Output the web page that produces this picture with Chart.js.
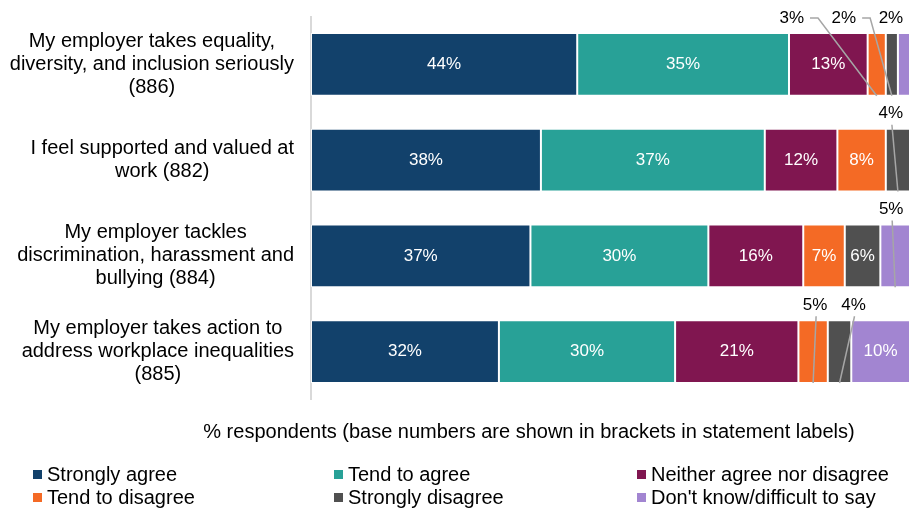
<!DOCTYPE html>
<html>
<head>
<meta charset="utf-8">
<script src="https://cdn.jsdelivr.net/npm/chart.js@4.4.0/dist/chart.umd.min.js"></script>
<style>
  html, body { margin: 0; padding: 0; background: #fff; }
  #wrap { width: 920px; height: 516px; }
</style>
</head>
<body>
<div id="wrap"><canvas id="mycanvas"></canvas></div>
<script>
// statement labels (base numbers in brackets)
const statements = [
  ['My employer takes equality,', 'diversity, and inclusion seriously', '(886)'],
  ['I feel supported and valued at', 'work (882)'],
  ['My employer tackles', 'discrimination, harassment and', 'bullying (884)'],
  ['My employer takes action to', 'address workplace inequalities', '(885)']
];
const responses = ['Strongly agree', 'Tend to agree', 'Neither agree nor disagree',
  'Tend to disagree', 'Strongly disagree', "Don't know/difficult to say"];

const stronglyAgree    = [44, 38, 37, 32];
const tendToAgree      = [35, 37, 30, 30];
const neitherAgree     = [13, 12, 16, 21];
const tendToDisagree   = [3, 8, 7, 5];
const stronglyDisagree = [2, 4, 6, 4];
const dontKnow         = [2, 0, 5, 10];

const axisTitle = '% respondents (base numbers are shown in brackets in statement labels)';

const series = [stronglyAgree, tendToAgree, neitherAgree, tendToDisagree, stronglyDisagree, dontKnow];
const colours = ['#12416b', '#28a197', '#801650', '#f46a25', '#505050', '#a285d1'];

// small segments get their label above the bar (dx from segment centre, leader style)
const outsideLabels = {
  '3,0': { dx: -85, line: 'side' },
  '4,0': { dx: -48, line: 'side' },
  '5,0': { dx: -13, line: 'none' },
  '4,1': { dx: -7, line: 'below' },
  '5,2': { dx: -4, line: 'below' },
  '3,3': { dx: 2, line: 'below' },
  '4,3': { dx: 14, line: 'below' }
};

const FONT = '"Liberation Sans", Arial, sans-serif';

// stacked to 100% like the original
const rowTotals = statements.map((s, i) => series.reduce((a, arr) => a + arr[i], 0));

const datasets = series.map((arr, di) => ({
  label: responses[di],
  data: arr.map((v, i) => v / rowTotals[i] * 100),
  backgroundColor: colours[di],
  borderColor: 'rgba(255,255,255,0.85)',
  borderWidth: 1,
  borderSkipped: false,
  barPercentage: 0.656,
  categoryPercentage: 1
}));

const drawExtras = {
  id: 'drawExtras',
  afterDatasetsDraw(chart) {
    const ctx = chart.ctx;
    ctx.save();

    // statement labels: right-aligned block, centred lines
    const yScale = chart.scales.y;
    ctx.font = '20px ' + FONT;
    ctx.fillStyle = '#000';
    ctx.textAlign = 'center';
    ctx.textBaseline = 'middle';
    statements.forEach((lines, i) => {
      const yc = yScale.getPixelForTick(i);
      const w = Math.max(...lines.map(l => ctx.measureText(l).width));
      const cx = 294 - w / 2;
      const lh = 23;
      lines.forEach((l, k) => {
        ctx.fillText(l, cx, yc + (k - (lines.length - 1) / 2) * lh);
      });
    });

    // data labels
    ctx.font = '17px ' + FONT;
    chart.data.datasets.forEach((ds, di) => {
      const meta = chart.getDatasetMeta(di);
      meta.data.forEach((bar, i) => {
        const v = series[di][i];
        if (!v) return;
        const p = bar.getProps(['x', 'y', 'base', 'height'], true);
        const cx = (p.x + p.base) / 2;
        const out = outsideLabels[di + ',' + i];
        if (!out) {
          ctx.fillStyle = '#fff';
          ctx.fillText(v + '%', cx, p.y);
          return;
        }
        const top = p.y - p.height / 2;
        const bottom = p.y + p.height / 2;
        const lx = cx + out.dx;
        const ly = top - 15;
        ctx.fillStyle = '#000';
        ctx.fillText(v + '%', lx, ly);
        ctx.strokeStyle = '#a6a6a6';
        ctx.lineWidth = 1.5;
        if (out.line === 'side') {
          const sx = lx + ctx.measureText(v + '%').width / 2 + 6;
          ctx.beginPath();
          ctx.moveTo(sx, ly);
          ctx.lineTo(sx + 8, ly);
          ctx.lineTo(cx, bottom);
          ctx.stroke();
        } else if (out.line === 'below') {
          ctx.beginPath();
          ctx.moveTo(lx + 1, ly + 11);
          ctx.lineTo(cx, bottom);
          ctx.stroke();
        }
      });
    });

    // axis title
    ctx.font = '20px ' + FONT;
    ctx.fillStyle = '#000';
    ctx.fillText(axisTitle, 529, 432);

    // legend in three columns
    const colX = [33, 334, 637];
    const rowY = [475, 498];
    ctx.textAlign = 'left';
    chart.data.datasets.forEach((ds, di) => {
      const x = colX[di % 3];
      const y = rowY[Math.floor(di / 3)];
      ctx.fillStyle = ds.backgroundColor;
      ctx.fillRect(x, y - 5, 9, 9);
      ctx.fillStyle = '#000';
      ctx.fillText(ds.label, x + 14, y);
    });

    ctx.restore();
  }
};

const ctx = document.getElementById('mycanvas');

new Chart(ctx, {
  type: 'bar',
  data: { labels: statements, datasets: datasets },
  options: {
    indexAxis: 'y',
    responsive: true,
    maintainAspectRatio: false,
    animation: false,
    layout: { padding: { top: 16.5, right: 10, bottom: 116.5, left: 0 } },
    plugins: { legend: { display: false }, tooltip: { enabled: false } },
    scales: {
      x: {
        stacked: true,
        min: 0,
        max: 100,
        display: false
      },
      y: {
        stacked: true,
        grid: { display: false, drawTicks: false },
        border: { display: true, color: '#d9d9d9', width: 2 },
        ticks: { display: false },
        afterFit(scale) { scale.width = 311; }
      }
    }
  },
  plugins: [drawExtras]
});
</script>
</body>
</html>
